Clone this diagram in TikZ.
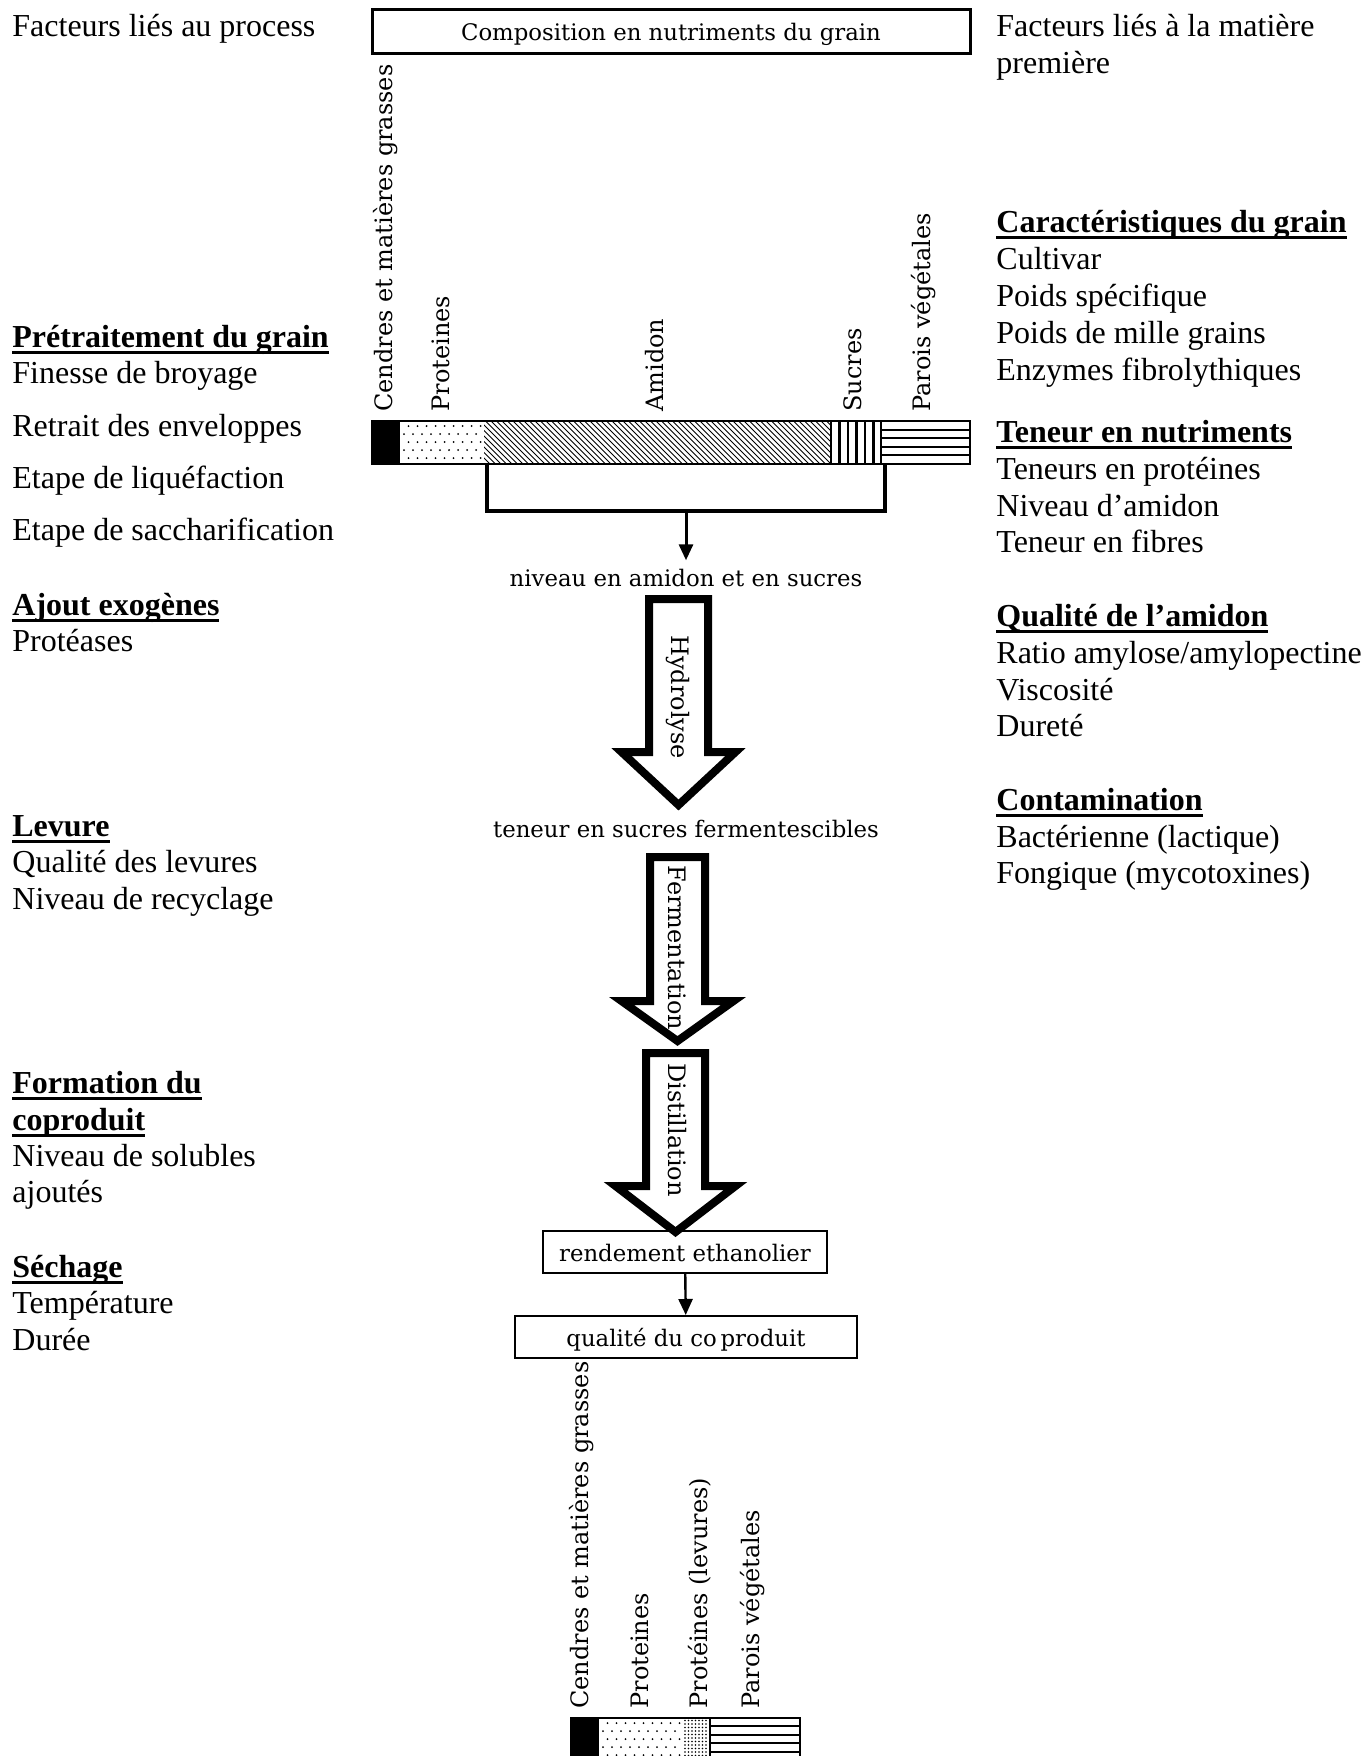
\documentclass[tikz,border=0pt]{standalone}
\usepackage{fontspec}
\setmainfont{Liberation Serif}
\newfontfamily\cfont{DejaVu Serif}
\usetikzlibrary{arrows.meta}
\newcommand\ulh[1]{\setbox0\hbox{\bfseries #1}\rlap{\copy0}\rule[-3.3pt]{\wd0}{1.4pt}}
\newcommand\blockarr[7]{% name, cx, top, shoulder, tip, half shaft, half head
  \draw[blockarrow] (#2-#6,#3) coordinate (#1top) -- (#2+#6,#3) -- (#2+#6,#4) -- (#2+#7,#4) -- (#2,#5) coordinate (#1tip) -- (#2-#7,#4) -- (#2-#6,#4) -- cycle;}
\begin{document}
\begin{tikzpicture}[x=0.5pt,y=-0.5pt,
  side/.style={anchor=base west, inner sep=0, font=\fontsize{16}{19}\selectfont},
  head/.style={side},
  ctr/.style={inner sep=0, font=\cfont\fontsize{11.4}{14}\selectfont},
  vlab/.style={inner sep=0, font=\cfont\fontsize{12}{14}\selectfont, rotate=90, anchor=west},
  alab/.style={inner sep=0, font=\cfont\fontsize{12}{14}\selectfont, rotate=-90},
  blockarrow/.style={draw, line width=4pt, fill=white, miter limit=10},
  boxed/.style={ctr, draw, line width=1pt, text height=12.5pt, text depth=2.6pt},
  thinarrow/.style={line width=1.2pt, -{Triangle[width=7pt,length=8pt]}},
]
\useasboundingbox (0,0) rectangle (1367,1756);

% ---------- left column ----------
\node[side] (lp) at (12,36) {Facteurs liés au process};
\node[head] (h1) at (12,347) {\ulh{Prétraitement du grain}};
\node[side] (l11) at (12,383) {Finesse de broyage};
\node[side] (l12) at (12,436) {Retrait des enveloppes};
\node[side] (l13) at (12,488) {Etape de liquéfaction};
\node[side] (l14) at (12,540) {Etape de saccharification};
\node[head] (h2) at (12,615) {\ulh{Ajout exogènes}};
\node[side] (l21) at (12,651) {Protéases};
\node[head] (h3) at (12,836) {\ulh{Levure}};
\node[side] (l31) at (12,872) {Qualité des levures};
\node[side] (l32) at (12,909) {Niveau de recyclage};
\node[head] (h4a) at (12,1093) {\ulh{Formation du}};
\node[head] (h4b) at (12,1130) {\ulh{coproduit}};
\node[side] (l41) at (12,1166) {Niveau de solubles};
\node[side] (l42) at (12,1202) {ajoutés};
\node[head] (h5) at (12,1277) {\ulh{Séchage}};
\node[side] (l51) at (12,1313) {Température};
\node[side] (l52) at (12,1350) {Durée};

% ---------- right column ----------
\node[side] (rp1) at (996,36) {Facteurs liés à la matière};
\node[side] (rp2) at (996,73) {première};
\node[head] (g1) at (996,232) {\ulh{Caractéristiques du grain}};
\node[side] (r11) at (996,269) {Cultivar};
\node[side] (r12) at (996,306) {Poids spécifique};
\node[side] (r13) at (996,343) {Poids de mille grains};
\node[side] (r14) at (996,380) {Enzymes fibrolythiques};
\node[head] (g2) at (996,442) {\ulh{Teneur en nutriments}};
\node[side] (r21) at (996,479) {Teneurs en protéines};
\node[side] (r22) at (996,516) {Niveau d’amidon};
\node[side] (r23) at (996,552) {Teneur en fibres};
\node[head] (g3) at (996,626) {\ulh{Qualité de l’amidon}};
\node[side] (r31) at (996,663) {Ratio amylose/amylopectine};
\node[side] (r32) at (996,700) {Viscosité};
\node[side] (r33) at (996,736) {Dureté};
\node[head] (g4) at (996,810) {\ulh{Contamination}};
\node[side] (r41) at (996,847) {Bactérienne (lactique)};
\node[side] (r42) at (996,883) {Fongique (mycotoxines)};

% ---------- top box ----------
\node[boxed, line width=1.5pt, minimum width=299pt, minimum height=22pt] (compo) at (671,31) {Composition en nutriments du grain};

% ---------- top labels ----------
\node[vlab] (tc) at (386,412) {Cendres et matières grasses};
\node[vlab] (tp) at (441,412) {Proteines};
\node[vlab] (ta) at (655,412) {Amidon};
\node[vlab] (ts) at (853,412) {Sucres};
\node[vlab] (tv) at (924,412) {Parois végétales};

% ---------- top bar ----------
\fill (372,421) rectangle (400,464);
\foreach \r [count=\i] in {426,434,442,450,458} {
  \foreach \c in {0,...,8} { \fill ({404+\c*9+mod(\i,2)*4.5},\r) circle (1); } }
\begin{scope}
  \clip (484,421) rectangle (831,464);
  \foreach \k in {436,441.5,...,836} \draw[line width=0.5pt] (\k,421) -- (\k+43,464);
\end{scope}
\foreach \k in {839.5,848,856.5,865,873.5} \draw[line width=1.2pt] (\k,421) -- (\k,464);
\foreach \k in {429.6,438.2,446.8,455.4} \draw[line width=1pt] (881,\k) -- (970,\k);
\draw[line width=1pt] (831,421) -- (831,464) (881,421) -- (881,464);
\draw[line width=1pt] (372,421) rectangle (970,464);

% ---------- bracket ----------
\coordinate (bl) at (487,464);
\coordinate (br) at (885,464);
\coordinate (bm) at (686,511);
\draw[line width=2pt] (bl) |- (bm) -| (br);

\node[ctr, anchor=base] (niveau) at (686,586) {niveau en amidon et en sucres};
\draw[thinarrow, line width=1.5pt, shorten >=4pt] (bm) -- (niveau.north);

% ---------- block arrows ----------
\blockarr{hy}{678.5}{599}{752}{805}{29.5}{57}
\node[alab] (hydro) at (678,697) {Hydrolyse};

\node[ctr, anchor=base] (teneur) at (686,837) {teneur en sucres fermentescibles};

\blockarr{fe}{677.5}{857}{1001}{1041}{27.5}{56}
\node[alab] (ferm) at (677,948) {Fermentation};

\blockarr{di}{675.5}{1053}{1186}{1232}{29.5}{60}
\node[alab] (dist) at (677,1130) {Distillation};

% ---------- result boxes ----------
\node[boxed, minimum width=142pt, minimum height=21pt] (rend) at (685,1252) {rendement ethanolier};
\node[boxed, minimum width=171pt, minimum height=21pt] (qual) at (686,1337) {qualité du co\,produit};
\draw[thinarrow] (rend) -- (qual);

% ---------- bottom labels ----------
\node[vlab] (bc) at (582,1709) {Cendres et matières grasses};
\node[vlab] (bp) at (640,1709) {Proteines};
\node[vlab] (bl2) at (700,1709) {Protéines (levures)};
\node[vlab] (bv) at (753,1709) {Parois végétales};

% ---------- bottom bar ----------
\fill (571,1718) rectangle (599,1770);
\foreach \r [count=\i] in {1723,1731,1739,1747,1755} {
  \foreach \c in {0,...,8} { \fill ({603+\c*9+mod(\i,2)*4.5},\r) circle (1); } }
\foreach \r in {1720.5,1724,...,1760} {
  \foreach \c in {685,688.5,...,708} { \fill (\c,\r) circle (0.8); } }
\foreach \k in {1726,1734.5,1743,1751.5} \draw[line width=1pt] (710,\k) -- (800,\k);
\draw[line width=1pt] (710,1718) -- (710,1770);
\draw[line width=1pt] (571,1718) rectangle (800,1770);
\end{tikzpicture}
\end{document}
